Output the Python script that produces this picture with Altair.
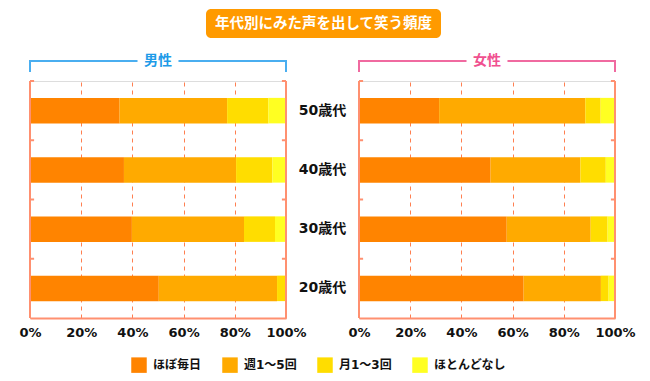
import altair as alt
import pandas as pd

# ---- data ----
ages = ["50歳代", "40歳代", "30歳代", "20歳代"]
cats = ["ほぼ毎日", "週1〜5回", "月1〜3回", "ほとんどなし"]
colors = ["#FF8400", "#FFAA00", "#FFDD00", "#FFFF22"]

male_daily = [35.0, 36.7, 39.8, 50.3]
male_weekly = [42.0, 43.8, 43.8, 46.2]
male_monthly = [16.1, 14.2, 12.1, 3.5]
male_rarely = [6.9, 5.3, 4.3, 0.0]

female_daily = [31.3, 51.4, 57.7, 64.3]
female_weekly = [57.1, 35.1, 32.8, 30.2]
female_monthly = [6.0, 9.9, 6.6, 3.0]
female_rarely = [5.6, 3.6, 2.9, 2.5]

x_ticks = [0, 20, 40, 60, 80, 100]
title_text = "年代別にみた声を出して笑う頻度"
panel_titles = ["男性", "女性"]

FONT = "DejaVu Sans, Noto Sans CJK JP, sans-serif"
CJK = "Noto Sans CJK JP, sans-serif"
FRAME = "#FF9070"
GRID = "#FF7F50"


def frame_df(series):
    rows = []
    for ci, (c, vals) in enumerate(zip(cats, series)):
        for a, v in zip(ages, vals):
            rows.append({"age": a, "cat": c, "value": v, "order": ci})
    return pd.DataFrame(rows)


male_df = frame_df([male_daily, male_weekly, male_monthly, male_rarely])
female_df = frame_df([female_daily, female_weekly, female_monthly, female_rarely])
one = alt.Data(values=[{}])
age_df = pd.DataFrame({"age": ages})

yscale = alt.Scale(domain=ages, paddingInner=0, paddingOuter=0)
xscale = alt.Scale(domain=[0, 100], nice=False)

xaxis = alt.Axis(values=x_ticks, title=None, labelExpr="datum.value + '%'",
                 labelFont=FONT, labelFontSize=13, labelFontWeight="bold",
                 labelColor="#111", labelPadding=8, labelFlush=False,
                 labelOverlap=False, ticks=False, domainColor=FRAME,
                 domainWidth=2, grid=True, gridColor=GRID,
                 gridDash=[4, 4], gridWidth=1)


def panel(df, left, accent, accent_text, label):
    if left:
        yaxis = alt.Axis(orient="right", title=None, domain=False, ticks=False,
                         grid=False, labelAlign="center", labelPadding=36,
                         labelFont=FONT, labelFontSize=14, labelFontWeight="bold",
                         labelColor="#111")
        legend = alt.Legend(orient="none", legendX=101, legendY=276, direction="horizontal",
                            title=None, symbolType="square", symbolSize=240,
                            symbolStrokeWidth=0, labelFont=FONT, labelFontSize=12,
                            labelFontWeight="bold", labelColor="#111", columnPadding=20,
                            labelOffset=6, padding=0)
    else:
        yaxis = None
        legend = None

    def Y(**kw):
        return alt.Y("age:N", sort=ages, scale=yscale, axis=yaxis, **kw)

    def XD(v):
        return alt.XDatum(v, scale=xscale, axis=xaxis)

    bars = alt.Chart(df).mark_bar(size=25.5).encode(
        y=Y(),
        x=alt.X("value:Q", stack="zero", scale=xscale, axis=xaxis),
        color=alt.Color("cat:N", scale=alt.Scale(domain=cats, range=colors), legend=legend),
        order=alt.Order("order:Q", sort="ascending"),
    )

    vleft = alt.Chart(one).mark_rule(color=FRAME, strokeWidth=2).encode(x=XD(0))
    vright = alt.Chart(one).mark_rule(color=FRAME, strokeWidth=2).encode(x=XD(100))
    tl = alt.Chart(age_df).mark_rule(color=FRAME, strokeWidth=2).encode(
        y=Y(bandPosition=0), x=XD(0), x2=alt.X2Datum(1.6))
    tr = alt.Chart(age_df).mark_rule(color=FRAME, strokeWidth=2).encode(
        y=Y(bandPosition=0), x=XD(98.4), x2=alt.X2Datum(100))

    # bracket with panel label
    b1 = alt.Chart(one).mark_rule(color=accent, strokeWidth=2, clip=False).encode(
        x=XD(0), x2=alt.X2Datum(42), y=alt.value(-20))
    b2 = alt.Chart(one).mark_rule(color=accent, strokeWidth=2, clip=False).encode(
        x=XD(58), x2=alt.X2Datum(100), y=alt.value(-20))
    b3 = alt.Chart(one).mark_rule(color=accent, strokeWidth=2, clip=False).encode(
        x=XD(0), y=alt.value(-21), y2=alt.value(-9))
    b4 = alt.Chart(one).mark_rule(color=accent, strokeWidth=2, clip=False).encode(
        x=XD(100), y=alt.value(-21), y2=alt.value(-9))
    bt = alt.Chart(one).mark_text(font=CJK, fontSize=14, fontWeight="bold",
                                  color=accent_text, baseline="middle").encode(
        x=XD(50), y=alt.value(-20), text=alt.value(label))

    layers = [bars, vleft, vright, tl, tr, b1, b2, b3, b4, bt]

    if left:
        box = alt.Chart(one).mark_rect(color="#FF9A00", cornerRadius=5, clip=False).encode(
            x=alt.value(176), x2=alt.value(411), y=alt.value(-72), y2=alt.value(-43))
        ttl = alt.Chart(one).mark_text(font=CJK, fontSize=14.5, fontWeight="bold",
                                       color="white", baseline="middle").encode(
            x=alt.value(293.5), y=alt.value(-57.5), text=alt.value(title_text))
        layers += [box, ttl]

    return alt.layer(*layers).properties(width=256, height=237)


left = panel(male_df, True, "#4AAEF0", "#1E9BE8", panel_titles[0])
right = panel(female_df, False, "#F06AA0", "#F0508F", panel_titles[1])

chart = alt.hconcat(left, right, spacing=73, bounds="flush").resolve_scale(
    color="shared"
).properties(
    padding={"left": 10, "top": 0, "right": 5, "bottom": 5}
).configure_view(stroke=None).configure(background="white")

chart.save("out.html", embed_options={"renderer": "svg", "actions": False})
